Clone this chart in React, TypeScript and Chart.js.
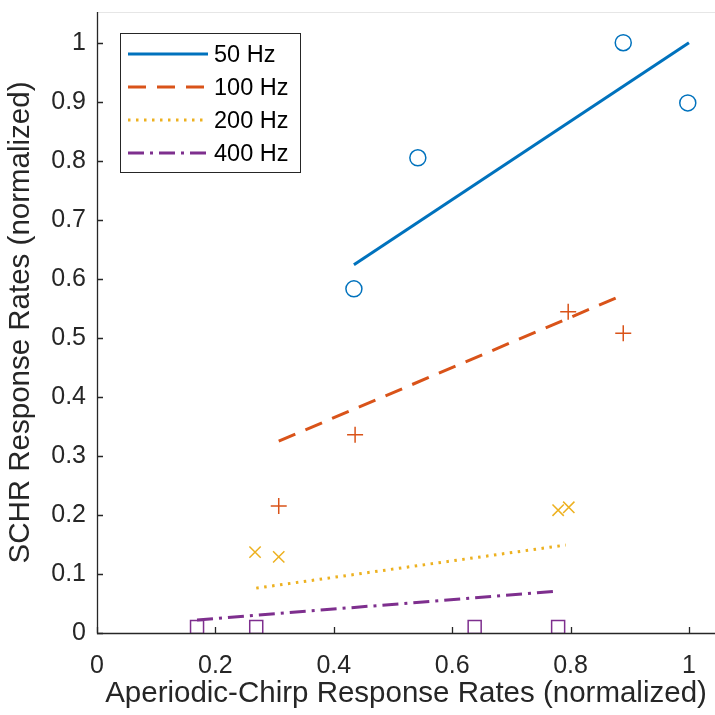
import React, { useEffect, useRef } from "react";
import { Chart, registerables } from "chart.js";

Chart.register(...registerables);

// ---------- data ----------
const seriesLabels = ["50 Hz", "100 Hz", "200 Hz", "400 Hz"];
const seriesColors = ["#0072BD", "#D95319", "#EDB120", "#7E2F8E"];
const markerStyles = ["circle", "cross", "crossRot", "rect"];
const markerRadius = [8, 8, 8, 9.2];
const dashPatterns: number[][] = [[], [18, 11], [2.5, 5.5], [16, 6, 3, 6]];

const x50 = [0.434, 0.542, 0.889, 0.998];
const y50 = [0.583, 0.805, 1.0, 0.898];
const x100 = [0.307, 0.436, 0.796, 0.889];
const y100 = [0.215, 0.336, 0.544, 0.508];
const x200 = [0.267, 0.307, 0.779, 0.797];
const y200 = [0.137, 0.129, 0.208, 0.213];
const x400 = [0.169, 0.269, 0.638, 0.779];
const y400 = [0.01, 0.01, 0.01, 0.01];

// fitted lines: [start, end]
const fitX50 = [0.434, 1.0];
const fitY50 = [0.624, 1.0];
const fitX100 = [0.307, 0.885];
const fitY100 = [0.325, 0.571];
const fitX200 = [0.269, 0.792];
const fitY200 = [0.076, 0.149];
const fitX400 = [0.169, 0.779];
const fitY400 = [0.022, 0.071];

const xTicks = [0, 0.2, 0.4, 0.6, 0.8, 1];
const xTickLabels = ["0", "0.2", "0.4", "0.6", "0.8", "1"];
const yTicks = [0, 0.1, 0.2, 0.3, 0.4, 0.5, 0.6, 0.7, 0.8, 0.9, 1];
const yTickLabels = ["0", "0.1", "0.2", "0.3", "0.4", "0.5", "0.6", "0.7", "0.8", "0.9", "1"];

const xTitle = "Aperiodic-Chirp Response Rates (normalized)";
const yTitle = "SCHR Response Rates (normalized)";

const pointsX = [x50, x100, x200, x400];
const pointsY = [y50, y100, y200, y400];
const fitsX = [fitX50, fitX100, fitX200, fitX400];
const fitsY = [fitY50, fitY100, fitY200, fitY400];

const FONT = "'Liberation Sans', Arial, sans-serif";
const AXIS_COLOR = "#262626";

const zip = (xs: number[], ys: number[]) => xs.map((x, i) => ({ x, y: ys[i] }));

const axesPlugin = {
  id: "matlabAxes",
  afterDraw(chart: any) {
    const { ctx, chartArea } = chart;
    const xs = chart.scales.x;
    const ys = chart.scales.y;
    ctx.save();
    // top faint border
    ctx.strokeStyle = "#e6e6e6";
    ctx.lineWidth = 1;
    ctx.beginPath();
    ctx.moveTo(chartArea.left, chartArea.top + 0.5);
    ctx.lineTo(chartArea.right, chartArea.top + 0.5);
    ctx.stroke();
    // axes
    ctx.strokeStyle = AXIS_COLOR;
    ctx.lineWidth = 1.3;
    ctx.beginPath();
    ctx.moveTo(chartArea.left + 0.5, chartArea.top);
    ctx.lineTo(chartArea.left + 0.5, chartArea.bottom + 0.5);
    ctx.lineTo(chartArea.right, chartArea.bottom + 0.5);
    ctx.stroke();
    // inward ticks
    ctx.beginPath();
    xTicks.forEach((v) => {
      const px = Math.round(xs.getPixelForValue(v)) + 0.5;
      ctx.moveTo(px, chartArea.bottom);
      ctx.lineTo(px, chartArea.bottom - 6);
    });
    yTicks.forEach((v) => {
      const py = Math.round(ys.getPixelForValue(v)) + 0.5;
      ctx.moveTo(chartArea.left, py);
      ctx.lineTo(chartArea.left + 6, py);
    });
    ctx.stroke();

    // legend box
    const bx = chartArea.left + 23;
    const by = chartArea.top + 21;
    const bw = 180;
    const bh = 139;
    ctx.fillStyle = "#ffffff";
    ctx.fillRect(bx, by, bw, bh);
    ctx.strokeStyle = AXIS_COLOR;
    ctx.lineWidth = 1;
    ctx.strokeRect(bx + 0.5, by + 0.5, bw, bh);
    ctx.font = `23.5px ${FONT}`;
    ctx.textBaseline = "middle";
    ctx.textAlign = "left";
    seriesLabels.forEach((lab, i) => {
      const ry = by + 21 + i * 33;
      ctx.strokeStyle = seriesColors[i];
      ctx.lineWidth = 3;
      ctx.lineCap = "butt";
      ctx.setLineDash(dashPatterns[i]);
      ctx.beginPath();
      ctx.moveTo(bx + 8, ry);
      ctx.lineTo(bx + 88, ry);
      ctx.stroke();
      ctx.setLineDash([]);
      ctx.fillStyle = "#000000";
      ctx.fillText(lab, bx + 94, ry + 2);
    });
    ctx.restore();
  },
};

export default function App() {
  const ref = useRef<HTMLCanvasElement | null>(null);

  useEffect(() => {
    if (!ref.current) return;
    const datasets: any[] = [];
    seriesLabels.forEach((lab, i) => {
      datasets.push({
        label: lab + " fit",
        data: zip(fitsX[i], fitsY[i]),
        showLine: true,
        borderColor: seriesColors[i],
        borderWidth: 3,
        borderDash: dashPatterns[i],
        pointRadius: 0,
        pointHoverRadius: 0,
        fill: false,
      });
    });
    seriesLabels.forEach((lab, i) => {
      datasets.push({
        label: lab,
        data: zip(pointsX[i], pointsY[i]),
        showLine: false,
        pointStyle: markerStyles[i],
        pointRadius: markerRadius[i],
        pointBorderWidth: 1.5,
        pointBorderColor: seriesColors[i],
        pointBackgroundColor: "rgba(0,0,0,0)",
        borderColor: seriesColors[i],
        backgroundColor: "rgba(0,0,0,0)",
      });
    });

    const chart = new Chart(ref.current, {
      type: "scatter",
      data: { datasets },
      options: {
        animation: false,
        responsive: false,
        maintainAspectRatio: false,
        layout: { autoPadding: false, padding: { top: 12, right: 0, left: 0, bottom: 0 } },
        plugins: {
          legend: { display: false },
          tooltip: { enabled: false },
        },
        scales: {
          x: {
            type: "linear",
            min: 0,
            max: 1.044,
            afterBuildTicks: (s: any) => {
              s.ticks = xTicks.map((v) => ({ value: v }));
            },
            afterFit: (s: any) => {
              s.height = 82;
              s.paddingLeft = 0;
              s.paddingRight = 0;
            },
            grid: { display: false, drawTicks: false },
            border: { display: false },
            ticks: {
              padding: 18,
              color: AXIS_COLOR,
              font: { family: FONT, size: 25 },
              maxRotation: 0,
              autoSkip: false,
              callback: (v: any) => {
                const i = xTicks.findIndex((t) => Math.abs(t - v) < 1e-9);
                return i >= 0 ? xTickLabels[i] : "";
              },
            },
            title: {
              display: true,
              text: xTitle,
              color: AXIS_COLOR,
              font: { family: FONT, size: 29.5 },
              padding: { top: 0, bottom: 3 },
            },
          },
          y: {
            type: "linear",
            min: 0,
            max: 1.052,
            afterBuildTicks: (s: any) => {
              s.ticks = yTicks.map((v) => ({ value: v }));
            },
            afterFit: (s: any) => {
              s.width = 97;
              s.paddingTop = 0;
              s.paddingBottom = 0;
            },
            grid: { display: false, drawTicks: false },
            border: { display: false },
            ticks: {
              padding: 11,
              color: AXIS_COLOR,
              font: { family: FONT, size: 25 },
              autoSkip: false,
              callback: (v: any) => {
                const i = yTicks.findIndex((t) => Math.abs(t - v) < 1e-9);
                return i >= 0 ? yTickLabels[i] : "";
              },
            },
            title: {
              display: true,
              text: yTitle,
              color: AXIS_COLOR,
              font: { family: FONT, size: 29.5 },
              padding: { top: 3, bottom: 0 },
            },
          },
        },
      },
      plugins: [axesPlugin],
    } as any);
    return () => chart.destroy();
  }, []);

  return (
    <div style={{ position: "fixed", left: 0, top: 0, width: 715, height: 715, background: "#fff" }}>
      <canvas ref={ref} width={715} height={715} style={{ width: 715, height: 715, display: "block" }} />
    </div>
  );
}
